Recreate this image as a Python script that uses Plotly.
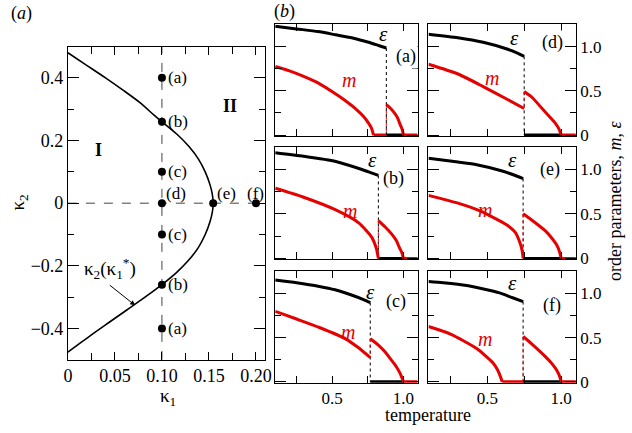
import plotly.graph_objects as go

W, H = 632, 433
FONT = "Liberation Serif"
RED = "#e60000"

# ---------------- panel (a): phase diagram ----------------
kappa2_curve = [0.48, 0.44, 0.40, 0.36, 0.32, 0.28, 0.26, 0.22, 0.18, 0.14, 0.10, 0.06, 0.03, 0.0,
                -0.03, -0.06, -0.10, -0.14, -0.18, -0.22, -0.26, -0.30, -0.34, -0.38, -0.42, -0.475]
kappa1_curve = [0.0, 0.020, 0.040, 0.059, 0.077, 0.092, 0.100, 0.116, 0.129, 0.139, 0.146, 0.151, 0.1535, 0.1545,
                0.1535, 0.151, 0.146, 0.139, 0.129, 0.116, 0.100, 0.082, 0.063, 0.044, 0.025, 0.0]
point_kappa1 = [0.1, 0.1, 0.1, 0.1, 0.1, 0.1, 0.1, 0.1545, 0.2]
point_kappa2 = [0.4, 0.26, 0.1, 0.0, -0.1, -0.26, -0.4, 0.0, 0.0]
point_labels = ["(a)", "(b)", "(c)", "(d)", "(c)", "(b)", "(a)", "(e)", "(f)"]
kappa1_ticks = [0, 0.05, 0.10, 0.15, 0.20]
kappa1_ticktext = ["0", "0.05", "0.10", "0.15", "0.20"]
kappa2_ticks = [-0.4, -0.2, 0, 0.2, 0.4]
kappa2_ticktext = ["\u22120.4", "\u22120.2", "0", "0.2", "0.4"]

# ---------------- panel (b): order parameters vs temperature ----------------
panel_names = ["(a)", "(b)", "(c)", "(d)", "(e)", "(f)"]
eps_T = [
    [0.10, 0.25, 0.40, 0.525, 0.65, 0.755, 0.83, 0.88],
    [0.10, 0.30, 0.525, 0.709, 0.78, 0.824],
    [0.10, 0.25, 0.41, 0.52, 0.64, 0.72, 0.767],
    [0.10, 0.30, 0.471, 0.627, 0.70, 0.749],
    [0.10, 0.30, 0.427, 0.60, 0.68, 0.742],
    [0.10, 0.20, 0.36, 0.582, 0.671, 0.742],
]
eps_v = [
    [1.231, 1.20, 1.17, 1.133, 1.095, 1.049, 1.01, 0.984],
    [1.185, 1.145, 1.087, 0.997, 0.955, 0.93],
    [1.151, 1.12, 1.078, 1.04, 0.979, 0.93, 0.896],
    [1.14, 1.10, 1.049, 0.976, 0.93, 0.89],
    [1.123, 1.08, 1.05, 0.98, 0.935, 0.895],
    [1.133, 1.12, 1.089, 1.005, 0.95, 0.907],
]
mlo_T = [
    [0.10, 0.20, 0.295, 0.40, 0.525, 0.60, 0.663, 0.72, 0.755, 0.775, 0.79],
    [0.10, 0.295, 0.525, 0.686, 0.778, 0.81, 0.824],
    [0.10, 0.25, 0.41, 0.594, 0.68, 0.767],
    [0.10, 0.30, 0.471, 0.627, 0.749],
    [0.10, 0.30, 0.449, 0.627, 0.69, 0.715, 0.735, 0.742],
    [0.10, 0.249, 0.427, 0.538, 0.57, 0.59, 0.60],
]
mlo_v = [
    [0.775, 0.725, 0.666, 0.59, 0.464, 0.38, 0.30, 0.21, 0.135, 0.08, 0.0],
    [0.786, 0.688, 0.543, 0.399, 0.236, 0.109, 0.0],
    [0.797, 0.71, 0.614, 0.486, 0.39, 0.274],
    [0.80, 0.69, 0.548, 0.41, 0.30],
    [0.707, 0.62, 0.533, 0.38, 0.29, 0.20, 0.09, 0.0],
    [0.625, 0.54, 0.376, 0.212, 0.13, 0.05, 0.0],
]
mhi_T = [
    [0.88, 0.91, 0.939, 0.96, 0.973, 0.99, 1.0],
    [0.824, 0.87, 0.918, 0.95, 0.97, 0.99, 1.0],
    [0.767, 0.82, 0.87, 0.918, 0.95, 0.975, 1.0],
    [0.749, 0.80, 0.871, 0.92, 0.96, 0.985, 1.0],
    [0.742, 0.80, 0.893, 0.94, 0.97, 0.99, 1.0],
    [0.742, 0.80, 0.893, 0.94, 0.97, 0.99, 1.0],
]
mhi_v = [
    [0.343, 0.30, 0.245, 0.19, 0.135, 0.07, 0.0],
    [0.424, 0.355, 0.272, 0.20, 0.127, 0.06, 0.0],
    [0.486, 0.42, 0.34, 0.24, 0.17, 0.10, 0.0],
    [0.493, 0.43, 0.30, 0.21, 0.135, 0.07, 0.0],
    [0.50, 0.43, 0.308, 0.22, 0.15, 0.07, 0.0],
    [0.512, 0.43, 0.285, 0.20, 0.13, 0.06, 0.0],
]
T_critical = [1.0, 1.0, 1.0, 1.0, 1.0, 1.0]
T_max = 1.1
# label positions (temperature, value) for epsilon, m and the panel letter
eps_label_pos = [(0.86, 1.14), (0.785, 1.105), (0.767, 1.02), (0.682, 1.10), (0.671, 1.10), (0.671, 1.115)]
m_label_pos = [(0.617, 0.628), (0.622, 0.533), (0.612, 0.559), (0.533, 0.647), (0.482, 0.543), (0.482, 0.486)]
name_label_pos = [(1.02, 0.885), (0.93, 0.895), (0.95, 0.907), (0.938, 1.05), (0.927, 0.997), (0.938, 0.858)]
temp_ticks = [0.5, 1.0]
temp_minor = [0.25, 0.75]
op_ticks = [0, 0.5, 1.0]
op_ticktext = ["0", "0.5", "1.0"]
op_minor = [0.25, 0.75]

fig = go.Figure()


def px_x(p):
    return p / W


def px_y(p):
    return 1 - p / H


# ---------- left panel ----------
fig.add_trace(go.Scatter(x=kappa1_curve, y=kappa2_curve, mode="lines", line=dict(color="black", width=1.6, shape="spline", smoothing=0.8),
                         xaxis="x", yaxis="y", showlegend=False, hoverinfo="skip"))
fig.add_trace(go.Scatter(x=[0.1, 0.1], y=[-0.5, 0.5], mode="lines", line=dict(color="#444", width=1, dash="dash"),
                         xaxis="x", yaxis="y", showlegend=False, hoverinfo="skip"))
fig.add_trace(go.Scatter(x=[0, 0.21], y=[0, 0], mode="lines", line=dict(color="#444", width=1, dash="dash"),
                         xaxis="x", yaxis="y", showlegend=False, hoverinfo="skip"))
fig.add_trace(go.Scatter(x=point_kappa1, y=point_kappa2, mode="markers", marker=dict(color="black", size=8),
                         xaxis="x", yaxis="y", showlegend=False, hoverinfo="skip", cliponaxis=False))


def ann(x, y, text, size, xref="paper", yref="paper", xanchor="center", yanchor="middle", **kw):
    d = dict(x=x, y=y, xref=xref, yref=yref, text=text, showarrow=False, xanchor=xanchor, yanchor=yanchor,
             font=dict(size=size, color=kw.pop("color", "black"), family=FONT))
    d.update(kw)
    return d


annotations = []
for k1, k2, lab in zip(point_kappa1, point_kappa2, point_labels):
    if lab == "(f)":
        annotations.append(ann(k1 - 0.001, 0.03, lab, 17, "x", "y"))
    elif lab in ("(d)", "(e)"):
        annotations.append(ann(k1 + 0.002, 0.03, lab, 17, "x", "y", xanchor="left"))
    else:
        annotations.append(ann(k1 + 0.004, k2, lab, 17, "x", "y", xanchor="left"))
annotations += [
    ann(0.0325, 0.169, "<b>I</b>", 18, "x", "y"),
    ann(0.172, 0.31, "<b>II</b>", 18, "x", "y"),
    ann(0.045, -0.207, "\u03ba<sub>2</sub>(\u03ba<sub>1</sub><sup>*</sup>)", 19, "x", "y"),
    dict(x=0.0715, y=-0.326, ax=0.043, ay=-0.258, xref="x", yref="y", axref="x", ayref="y", text="",
         showarrow=True, arrowhead=2, arrowsize=1, arrowwidth=1, arrowcolor="black"),
    ann(px_x(4), px_y(14), "(<i>a</i>)", 18, xanchor="left"),
    ann(px_x(272), px_y(12), "(<i>b</i>)", 18, xanchor="left"),
    ann(px_x(14), px_y(207), "\u03ba<sub>2</sub>", 19, textangle=-90),
    ann(px_x(166), px_y(405), "\u03ba<sub>1</sub>", 19),
    ann(px_x(430), px_y(424), "temperature", 18),
    ann(px_x(621), px_y(205), "order parameters, <i>m</i>, <i>\u03b5</i>", 18, textangle=-90),
]

layout = dict(
    width=W, height=H, margin=dict(l=0, r=0, t=0, b=0),
    paper_bgcolor="white", plot_bgcolor="white",
    font=dict(family=FONT, color="black", size=16),
    showlegend=False,
)

axis_common = dict(showline=True, linecolor="black", linewidth=1, mirror="allticks", ticks="inside",
                   tickcolor="black", showgrid=False, zeroline=False)

layout["xaxis"] = dict(axis_common, domain=[px_x(64), px_x(265)], range=[0, 0.21], tickmode="array",
                       tickvals=kappa1_ticks, ticktext=kappa1_ticktext, ticklen=8, anchor="y",
                       tickfont=dict(family=FONT, size=18),
                       minor=dict(tickvals=[0.025, 0.075, 0.125, 0.175], ticklen=7, ticks="inside", tickcolor="black"))
layout["yaxis"] = dict(axis_common, domain=[px_y(367.5), px_y(47.5)], range=[-0.5, 0.5], tickmode="array",
                       tickvals=kappa2_ticks, ticktext=kappa2_ticktext, ticklen=11, anchor="x",
                       tickfont=dict(family=FONT, size=18),
                       minor=dict(tickvals=[-0.3, -0.1, 0.1, 0.3], ticklen=6, ticks="inside", tickcolor="black"))

col_px = [(275, 420), (431, 581)]
row_px = [(25, 139), (150, 265), (277, 391)]
# panel order: (a) (d) top row; (b) (e) middle; (c) (f) bottom
panel_rc = [(0, 0), (1, 0), (2, 0), (0, 1), (1, 1), (2, 1)]

for i in range(6):
    r, c = panel_rc[i]
    n = i + 2
    xa, ya = f"x{n}", f"y{n}"
    layout[f"xaxis{n}"] = dict(axis_common, domain=[px_x(col_px[c][0]), px_x(col_px[c][1])], range=[0.1, T_max],
                               tickmode="array", tickvals=temp_ticks, ticktext=["0.5", "1.0"], ticklen=7,
                               showticklabels=(r == 2), anchor=ya, tickfont=dict(family=FONT, size=17),
                               minor=dict(tickvals=temp_minor, ticklen=7, ticks="inside", tickcolor="black"))
    layout[f"yaxis{n}"] = dict(axis_common, domain=[px_y(row_px[r][1]), px_y(row_px[r][0])], range=[-0.012, 1.25],
                               tickmode="array", tickvals=op_ticks, ticktext=op_ticktext, ticklen=11,
                               showticklabels=(c == 1), side="right" if c == 1 else "left", anchor=xa,
                               tickfont=dict(family=FONT, size=17),
                               minor=dict(tickvals=op_minor, ticklen=6, ticks="inside", tickcolor="black"))

    Tj = eps_T[i][-1]
    Tc = T_critical[i]
    common = dict(xaxis=xa, yaxis=ya, showlegend=False, hoverinfo="skip")
    # dotted jump lines
    fig.add_trace(go.Scatter(x=[Tj, Tj], y=[eps_v[i][-1], 0], mode="lines",
                             line=dict(color="black", width=1, dash="dot"), **common))
    fig.add_trace(go.Scatter(x=[Tj, Tj], y=[mhi_v[i][0], mlo_v[i][-1] if mlo_T[i][-1] == Tj else 0], mode="lines",
                             line=dict(color=RED, width=1, dash="dot"), **common))
    # zero segments
    if mlo_T[i][-1] < Tj:
        fig.add_trace(go.Scatter(x=[mlo_T[i][-1], Tj], y=[0, 0], mode="lines", line=dict(color=RED, width=3), **common))
    fig.add_trace(go.Scatter(x=[Tj, Tc], y=[0, 0], mode="lines", line=dict(color="black", width=3), **common))
    fig.add_trace(go.Scatter(x=[Tc, T_max], y=[0, 0], mode="lines", line=dict(color=RED, width=3), **common))
    # curves
    fig.add_trace(go.Scatter(x=eps_T[i], y=eps_v[i], mode="lines",
                             line=dict(color="black", width=3, shape="spline", smoothing=0.6), **common))
    fig.add_trace(go.Scatter(x=mlo_T[i], y=mlo_v[i], mode="lines",
                             line=dict(color=RED, width=3, shape="spline", smoothing=0.6), **common))
    fig.add_trace(go.Scatter(x=mhi_T[i], y=mhi_v[i], mode="lines",
                             line=dict(color=RED, width=3, shape="spline", smoothing=0.6), **common))
    # labels
    ex, ey = eps_label_pos[i]
    mx, my = m_label_pos[i]
    nx, ny = name_label_pos[i]
    annotations += [
        ann(ex, ey, "<i>\u03b5</i>", 21, xa, ya),
        ann(mx, my, "<i>m</i>", 20, xa, ya, color=RED),
        ann(nx, ny, panel_names[i], 18, xa, ya, bgcolor="white"),
    ]

layout["annotations"] = annotations
fig.update_layout(**layout)
fig.write_html("out.html", config={"displayModeBar": False},
               post_script="document.body.style.margin='0';document.documentElement.style.overflow='hidden';")
